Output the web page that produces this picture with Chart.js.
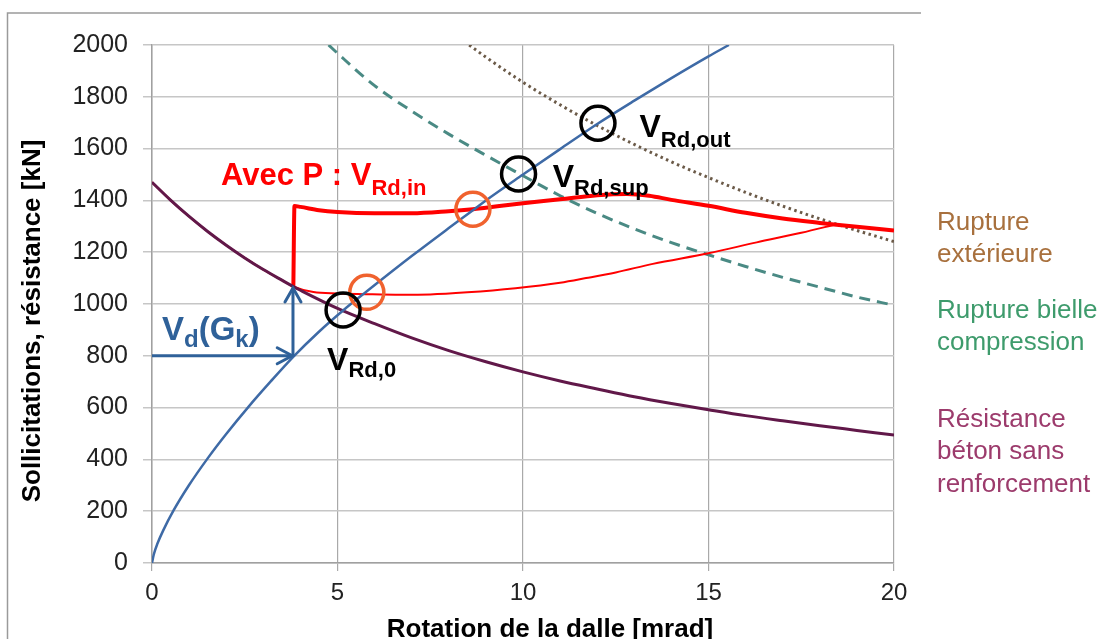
<!DOCTYPE html>
<html>
<head>
<meta charset="utf-8">
<title>Rotation de la dalle</title>
<script src="https://cdn.jsdelivr.net/npm/chart.js@4.4.1/dist/chart.umd.min.js"></script>
<style>
  html, body { margin: 0; padding: 0; background: #fff; }
</style>
</head>
<body>
<canvas id="myChart" width="1108" height="639"></canvas>

<script>
  // --- valeurs (rotation [mrad], effort [kN]) ---
  const rotSoll = [0, 0.05, 0.15, 0.3, 0.57, 1, 1.5, 2, 2.6, 3.2, 3.8, 4.5, 5.15, 5.8, 7, 8, 8.65, 9, 10, 11, 12, 13, 14, 15, 15.55];
  const vSoll   = [0, 34, 76, 125, 200, 301, 404, 498, 603, 701, 795, 893, 975, 1050, 1185, 1293, 1362, 1400, 1500, 1598, 1695, 1785, 1872, 1956, 2000];

  const rotBeton = [0, 0.5, 1, 1.5, 2, 2.5, 3, 3.5, 3.8, 4, 5, 6, 7, 8, 9, 10, 11, 12, 13, 14, 15, 16, 17, 18, 19, 20];
  const vBeton   = [1470, 1401, 1338, 1280, 1227, 1178, 1133, 1092, 1068, 1053, 983, 924, 869, 820, 777, 738, 703, 672, 642, 616, 592, 569, 549, 530, 512, 494];

  const rotAvecP = [3.81, 3.84, 4, 4.5, 5, 6, 7, 8, 8.65, 9, 10, 11, 12, 12.8, 13.4, 14, 15, 16, 17, 18, 18.45, 19, 20];
  const vAvecP   = [1068, 1378, 1375, 1362, 1355, 1350, 1350, 1358, 1366, 1372, 1389, 1404, 1420, 1425, 1418, 1402, 1379, 1352, 1330, 1313, 1306, 1298, 1284];

  const rotAvecPBas = [0, 0.5, 1, 1.5, 2, 2.5, 3, 3.5, 3.8, 4.35, 5, 5.8, 6.7, 7.5, 8.5, 9.8, 11, 11.7, 12.5, 13.5, 15, 16.3, 17.5, 18.45];
  const vAvecPBas   = [1470, 1401, 1338, 1280, 1227, 1178, 1133, 1092, 1068, 1046, 1041, 1038, 1036, 1037, 1045, 1061, 1082, 1100, 1122, 1155, 1196, 1238, 1275, 1308];

  const rotBielle = [4.76, 5, 6, 7, 8, 9, 10, 11, 12, 13, 14, 15, 16, 17, 18, 19, 20];
  const vBielle   = [2000, 1968, 1843, 1745, 1656, 1574, 1495, 1418, 1350, 1290, 1237, 1190, 1145, 1103, 1065, 1027, 995];

  const rotExt = [8.55, 9, 10, 11, 12, 13, 14, 15, 16, 17, 18, 19, 20];
  const vExt   = [2000, 1953, 1856, 1769, 1689, 1616, 1549, 1488, 1431, 1378, 1329, 1284, 1241];

  // points entourés
  const rotCerclesNoirs = [5.15, 9.88, 12.02];
  const vCerclesNoirs   = [977, 1502, 1698];
  const rotCerclesOrange = [5.79, 8.65];
  const vCerclesOrange   = [1045, 1366];

  // flèches Vd(Gk)
  const rotFlecheH = [0, 3.78];
  const vFlecheH   = [800, 800];
  const rotFlecheV = [3.8, 3.8];
  const vFlecheV   = [800, 1062];

  const xTicks = [0, 5, 10, 15, 20];
  const yTicks = [0, 200, 400, 600, 800, 1000, 1200, 1400, 1600, 1800, 2000];

  const FONT = '"Liberation Sans", Arial, Helvetica, sans-serif';

  function pts(xs, ys) {
    return xs.map((v, i) => ({ x: v, y: ys[i] }));
  }

  function courbe(xs, ys, color, width, dash) {
    return {
      data: pts(xs, ys),
      showLine: true,
      borderColor: color,
      borderWidth: width,
      borderDash: dash || [],
      pointRadius: 0,
      cubicInterpolationMode: 'monotone',
      fill: false
    };
  }

  function richText(ctx, x, y, parts, color, big, small, drop) {
    ctx.fillStyle = color;
    ctx.textAlign = 'left';
    ctx.textBaseline = 'alphabetic';
    let cx = x;
    parts.forEach(p => {
      ctx.font = 'bold ' + (p[1] ? small : big) + 'px ' + FONT;
      ctx.fillText(p[0], cx, p[1] ? y + drop : y);
      cx += ctx.measureText(p[0]).width;
    });
  }

  // annotations dans le repère des données
  const annotations = [
    { x: 1.86, y: 1459, parts: [['Avec P : V', 0], ['Rd,in', 1]], color: '#ff0000', big: 31, small: 22, drop: 10 },
    { x: 10.80, y: 1452, parts: [['V', 0], ['Rd,sup', 1]], color: '#000000', big: 32, small: 22, drop: 8 },
    { x: 13.14, y: 1645, parts: [['V', 0], ['Rd,out', 1]], color: '#000000', big: 32, small: 22, drop: 10 },
    { x: 4.72, y: 745, parts: [['V', 0], ['Rd,0', 1]], color: '#000000', big: 32, small: 22, drop: 7 },
    { x: 0.27, y: 861, parts: [['V', 0], ['d', 1], ['(G', 0], ['k', 1], [')', 0]], color: '#2f6199', big: 33, small: 24, drop: 7 }
  ];

  const legendeDroite = [
    { lines: ['Rupture', 'extérieure'], color: '#a8703d', y: [230, 262] },
    { lines: ['Rupture bielle', 'compression'], color: '#3e9b6c', y: [318, 350] },
    { lines: ['Résistance', 'béton sans', 'renforcement'], color: '#9c3b6c', y: [427, 459, 492] }
  ];

  const decor = {
    id: 'decor',
    beforeDraw(chart) {
      const ctx = chart.ctx;
      ctx.save();
      ctx.fillStyle = '#ffffff';
      ctx.fillRect(0, 0, chart.width, chart.height);
      ctx.strokeStyle = '#9a9a9a';
      ctx.lineWidth = 1.5;
      ctx.beginPath();
      ctx.moveTo(7.5, chart.height);
      ctx.lineTo(7.5, 13);
      ctx.lineTo(921, 13);
      ctx.stroke();
      ctx.restore();
    },
    afterDatasetsDraw(chart) {
      const ctx = chart.ctx;
      const xs = chart.scales.x, ys = chart.scales.y;
      ctx.save();

      // pointes de flèches
      ctx.strokeStyle = '#2f6199';
      ctx.lineWidth = 3;
      ctx.lineCap = 'round';
      let tx = xs.getPixelForValue(rotFlecheH[1]), ty = ys.getPixelForValue(vFlecheH[1]);
      ctx.beginPath();
      ctx.moveTo(tx - 15, ty - 8); ctx.lineTo(tx, ty); ctx.lineTo(tx - 15, ty + 8);
      ctx.stroke();
      tx = xs.getPixelForValue(rotFlecheV[1]); ty = ys.getPixelForValue(vFlecheV[1]);
      ctx.beginPath();
      ctx.moveTo(tx - 8, ty + 14); ctx.lineTo(tx, ty); ctx.lineTo(tx + 8, ty + 14);
      ctx.stroke();

      // textes
      annotations.forEach(a => {
        richText(ctx, xs.getPixelForValue(a.x), ys.getPixelForValue(a.y), a.parts, a.color, a.big, a.small, a.drop);
      });

      // légende à droite
      ctx.font = '26px ' + FONT;
      ctx.textAlign = 'left';
      ctx.textBaseline = 'alphabetic';
      legendeDroite.forEach(l => {
        ctx.fillStyle = l.color;
        l.lines.forEach((t, i) => ctx.fillText(t, chart.chartArea.right + 43, l.y[i]));
      });

      // titres des axes
      ctx.fillStyle = '#000000';
      ctx.font = 'bold 26px ' + FONT;
      ctx.textAlign = 'center';
      ctx.fillText('Rotation de la dalle [mrad]', 550, 637);
      ctx.translate(40, 321);
      ctx.rotate(-Math.PI / 2);
      ctx.fillText('Sollicitations, résistance [kN]', 0, 0);
      ctx.restore();
    }
  };

  const ctx = document.getElementById('myChart');

  const cercle = (xs, ys, color) => ({
    data: pts(xs, ys),
    showLine: false,
    pointStyle: 'circle',
    pointRadius: 17,
    pointBorderWidth: 3.5,
    pointBorderColor: color,
    pointBackgroundColor: 'rgba(0,0,0,0)',
    order: 0
  });

  const myChart = new Chart(ctx, {
    type: 'scatter',
    data: {
      datasets: [
        cercle(rotCerclesNoirs, vCerclesNoirs, '#000000'),
        cercle(rotCerclesOrange, vCerclesOrange, '#f0622e'),
        Object.assign(courbe(rotFlecheH, vFlecheH, '#2f6199', 3), { order: 1, cubicInterpolationMode: 'default', tension: 0 }),
        Object.assign(courbe(rotFlecheV, vFlecheV, '#2f6199', 3), { order: 1, cubicInterpolationMode: 'default', tension: 0 }),
        Object.assign(courbe(rotSoll, vSoll, '#3e6aa6', 2.5), { order: 2 }),
        Object.assign(courbe(rotBeton, vBeton, '#611849', 3), { order: 3 }),
        Object.assign(courbe(rotAvecP, vAvecP, '#ff0000', 4), { order: 4 }),
        Object.assign(courbe(rotAvecPBas, vAvecPBas, '#ff0000', 2), { order: 5 }),
        Object.assign(courbe(rotBielle, vBielle, '#4a8a84', 3, [11, 7]), { order: 6 }),
        Object.assign(courbe(rotExt, vExt, '#6b5a48', 3, [2.5, 3.5]), { order: 7 })
      ]
    },
    options: {
      responsive: false,
      animation: false,
      devicePixelRatio: 1,
      layout: { padding: { left: 0, top: 45, right: 214, bottom: 0 } },
      plugins: {
        legend: { display: false },
        tooltip: { enabled: false }
      },
      scales: {
        x: {
          type: 'linear',
          min: 0,
          max: 20,
          afterBuildTicks: scale => { scale.ticks = xTicks.map(v => ({ value: v })); },
          afterFit: scale => { scale.height = 76; },
          ticks: { font: { size: 24, family: FONT }, color: '#222222', padding: 8, callback: v => String(v) },
          grid: { color: '#a9a9a9', lineWidth: 1.2, tickLength: 8 },
          border: { color: '#a0a0a0', width: 1.5 }
        },
        y: {
          min: 0,
          max: 2000,
          afterBuildTicks: scale => { scale.ticks = yTicks.map(v => ({ value: v })); },
          afterFit: scale => { scale.width = 152; },
          ticks: { font: { size: 25, family: FONT }, color: '#222222', padding: 15, callback: v => String(v) },
          grid: { color: '#c6c6c6', lineWidth: 1.5, tickLength: 9 },
          border: { color: '#a0a0a0', width: 1.5 }
        }
      }
    },
    plugins: [decor]
  });
</script>
</body>
</html>
